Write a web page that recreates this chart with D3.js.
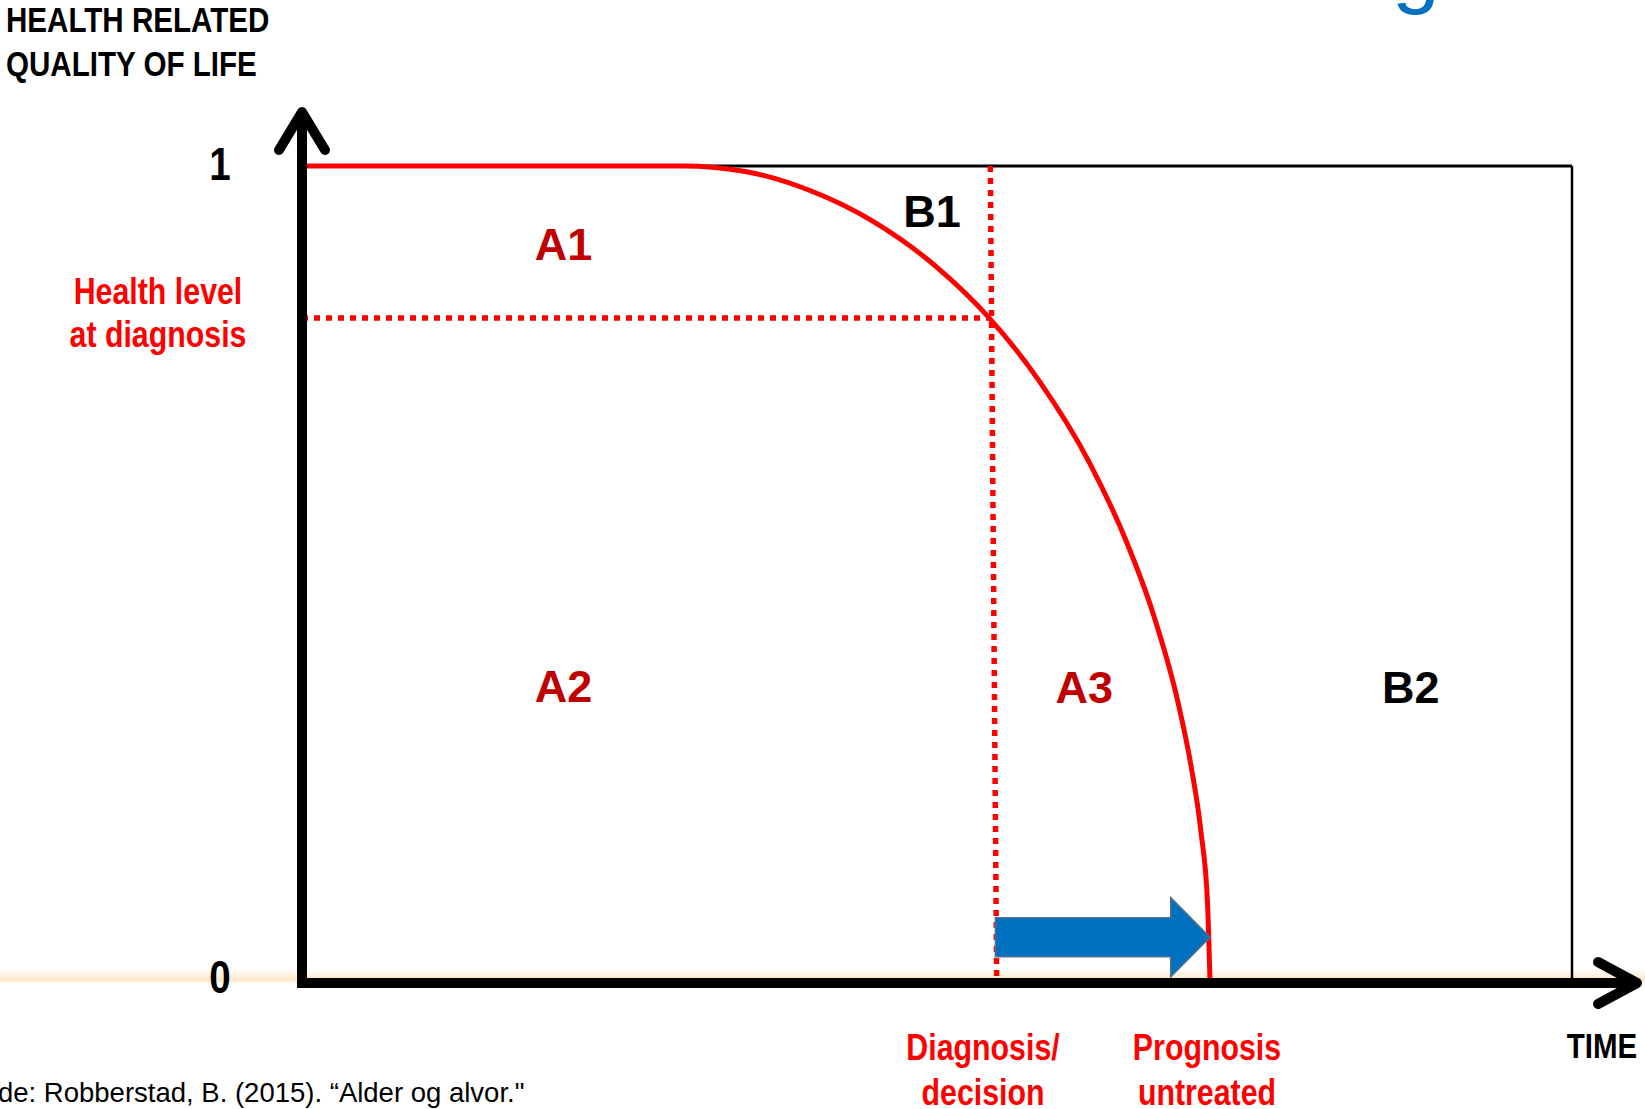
<!DOCTYPE html>
<html>
<head>
<meta charset="utf-8">
<script src="https://cdn.jsdelivr.net/npm/d3@7"></script>
<style>
  html, body { margin: 0; padding: 0; background: #fff; overflow: hidden; }
  svg { display: block; }
</style>
</head>
<body>
<svg id="chart" width="1645" height="1109"></svg>
<script>
// Health-related quality of life over time (conceptual diagram)
const healthTime  = [0, 30, 35, 40, 45, 50, 54, 58, 62, 65, 67, 69, 70, 70.8, 71.3, 71.5];
const healthLevel = [1, 1, 0.993, 0.970, 0.932, 0.876, 0.816, 0.738, 0.637, 0.537, 0.453, 0.342, 0.266, 0.183, 0.098, 0];

const yTicks = [0, 1];
const yTickLabels = ["0", "1"];

const diagnosisTime = [54.2, 54.7];      // top / bottom of the decision line
const diagnosisHealth = 0.814;            // health level at diagnosis

const arrowTime = [54.6, 68.4, 71.5];     // tail, start of head, tip
const arrowLevel = [0.056, 0.024, 0.0485]; // centre, shaft half-height, head half-height

const areaNames = ["A1", "B1", "A2", "A3", "B2"];
const areaTime  = [20.6, 49.6, 20.6, 61.6, 87.3];
const areaValue = [0.885, 0.925, 0.344, 0.343, 0.343];
const areaGroup = ["A", "B", "A", "A", "B"];

const SANS = "'Liberation Sans',Arial,sans-serif";
const NARROW_SCALE = 0.82;   // condensed bold face built from the regular one
const RED = "#ff0000";
const DARK_RED = "#c00000";
const BLUE = "#0070c0";

const svg = d3.select("#chart");

const x = d3.scaleLinear().domain([0, 100]).range([302, 1572]);
const y = d3.scaleLinear().domain([0, 1]).range([983, 166]);

const defs = svg.append("defs");
const glow = defs.append("linearGradient").attr("id", "glow")
  .attr("x1", 0).attr("y1", 0).attr("x2", 0).attr("y2", 1);
glow.append("stop").attr("offset", "0%").attr("stop-color", "#f7c27a").attr("stop-opacity", 0);
glow.append("stop").attr("offset", "75%").attr("stop-color", "#f7c27a").attr("stop-opacity", 0.4);
glow.append("stop").attr("offset", "100%").attr("stop-color", "#f7c27a").attr("stop-opacity", 0.15);

// soft band along the time axis
svg.append("rect")
  .attr("x", 0).attr("y", y(0) - 14).attr("width", 1645).attr("height", 14)
  .attr("fill", "url(#glow)");

// heading letter running off the top edge
svg.append("text")
  .attr("x", 1392).attr("y", -3)
  .attr("font-family", SANS).attr("font-size", 86)
  .attr("fill", BLUE).text("g");

// frame: top line at full health and right edge
svg.append("line")
  .attr("x1", x(0)).attr("x2", x(100)).attr("y1", y(1)).attr("y2", y(1))
  .attr("stroke", "#000").attr("stroke-width", 3);
svg.append("line")
  .attr("x1", x(100)).attr("x2", x(100)).attr("y1", y(1)).attr("y2", y(0))
  .attr("stroke", "#000").attr("stroke-width", 2.5);

// dotted reference lines at diagnosis
svg.append("line")
  .attr("x1", x(0)).attr("x2", x(diagnosisTime[0]))
  .attr("y1", y(diagnosisHealth)).attr("y2", y(diagnosisHealth))
  .attr("stroke", RED).attr("stroke-width", 5.5).attr("stroke-dasharray", "6,6");
svg.append("line")
  .attr("x1", x(diagnosisTime[0])).attr("x2", x(diagnosisTime[1]))
  .attr("y1", y(1)).attr("y2", y(0))
  .attr("stroke", RED).attr("stroke-width", 5.5).attr("stroke-dasharray", "6,6");

// health trajectory
const pts = healthTime.map((t, i) => [t, healthLevel[i]]);
svg.append("path")
  .datum(pts)
  .attr("fill", "none").attr("stroke", RED).attr("stroke-width", 5)
  .attr("d", d3.line().x(d => x(d[0])).y(d => y(d[1])).curve(d3.curveMonotoneX));

// blue block arrow: gain from treatment
const [ta, th, tt] = arrowTime;
const [lc, lb, lh] = arrowLevel;
const arrowPts = [
  [ta, lc + lb], [th, lc + lb], [th, lc + lh], [tt, lc],
  [th, lc - lh], [th, lc - lb], [ta, lc - lb]
];
svg.append("path")
  .datum(arrowPts)
  .attr("d", d3.line().x(d => x(d[0])).y(d => y(d[1])).curve(d3.curveLinearClosed))
  .attr("fill", BLUE).attr("stroke", "#51708a").attr("stroke-width", 1.5);

// axes
const axisG = svg.append("g").attr("stroke", "#000").attr("stroke-width", 10)
  .attr("fill", "none").attr("stroke-linecap", "round").attr("stroke-linejoin", "round");
axisG.append("line").attr("x1", x(0)).attr("x2", x(0)).attr("y1", y(0) + 5).attr("y2", 112)
  .attr("stroke-linecap", "butt");
axisG.append("path").attr("d", `M${x(0) - 23},150 L${x(0)},112 L${x(0) + 23},150`);
axisG.append("line").attr("x1", x(0) - 5).attr("x2", 1636).attr("y1", y(0)).attr("y2", y(0))
  .attr("stroke-linecap", "butt");
axisG.append("path").attr("d", `M1598,962 L1637,${y(0)} L1598,1004`);

// value ticks on the quality axis
const yAxis = d3.axisLeft(y).tickValues(yTicks).tickSize(0)
  .tickFormat((d, i) => yTickLabels[i]);
const yAxisG = svg.append("g").attr("transform", `translate(${x(0)},0)`).call(yAxis);
yAxisG.select(".domain").remove();
yAxisG.selectAll(".tick text")
  .attr("x", 0).attr("dy", "0.36em")
  .attr("text-anchor", "middle")
  .attr("transform", d => `translate(-82,${d === 0 ? -7 : -3}) scale(${NARROW_SCALE},1)`)
  .attr("font-family", SANS).attr("font-weight", "bold").attr("font-size", 47)
  .attr("fill", "#000");

// area labels
svg.append("g").selectAll("text")
  .data(areaNames)
  .join("text")
  .attr("x", (d, i) => x(areaTime[i]))
  .attr("y", (d, i) => y(areaValue[i]))
  .attr("text-anchor", "middle")
  .attr("font-family", SANS).attr("font-weight", "bold").attr("font-size", 45)
  .attr("fill", (d, i) => areaGroup[i] === "A" ? DARK_RED : "#000")
  .text(d => d);

// axis titles and annotations, set in a condensed bold face
function block(lines, ax, y0, lh, size, color, anchor, sx) {
  const t = svg.append("text")
    .attr("transform", `translate(${ax},0) scale(${sx || NARROW_SCALE},1)`)
    .attr("font-family", SANS).attr("font-weight", "bold").attr("font-size", size)
    .attr("fill", color).attr("text-anchor", anchor || "middle");
  lines.forEach((s, i) => t.append("tspan").attr("x", 0).attr("y", y0 + i * lh).text(s));
  return t;
}
block(["HEALTH RELATED", "QUALITY OF LIFE"], 6, 32, 44, 35, "#000", "start", 0.845);
block(["Health level", "at diagnosis"], 158, 304, 43, 37, RED);
block(["Diagnosis/", "decision"], 983, 1060, 45, 37, RED);
block(["Prognosis", "untreated"], 1207, 1060, 45, 37, RED);
block(["TIME"], 1602, 1058, 0, 36, "#000");

// source line
svg.append("text")
  .attr("x", -2).attr("y", 1102)
  .attr("font-family", SANS).attr("font-size", 27.5).attr("fill", "#000")
  .text("de: Robberstad, B. (2015). \u201CAlder og alvor.\"");
</script>
</body>
</html>
